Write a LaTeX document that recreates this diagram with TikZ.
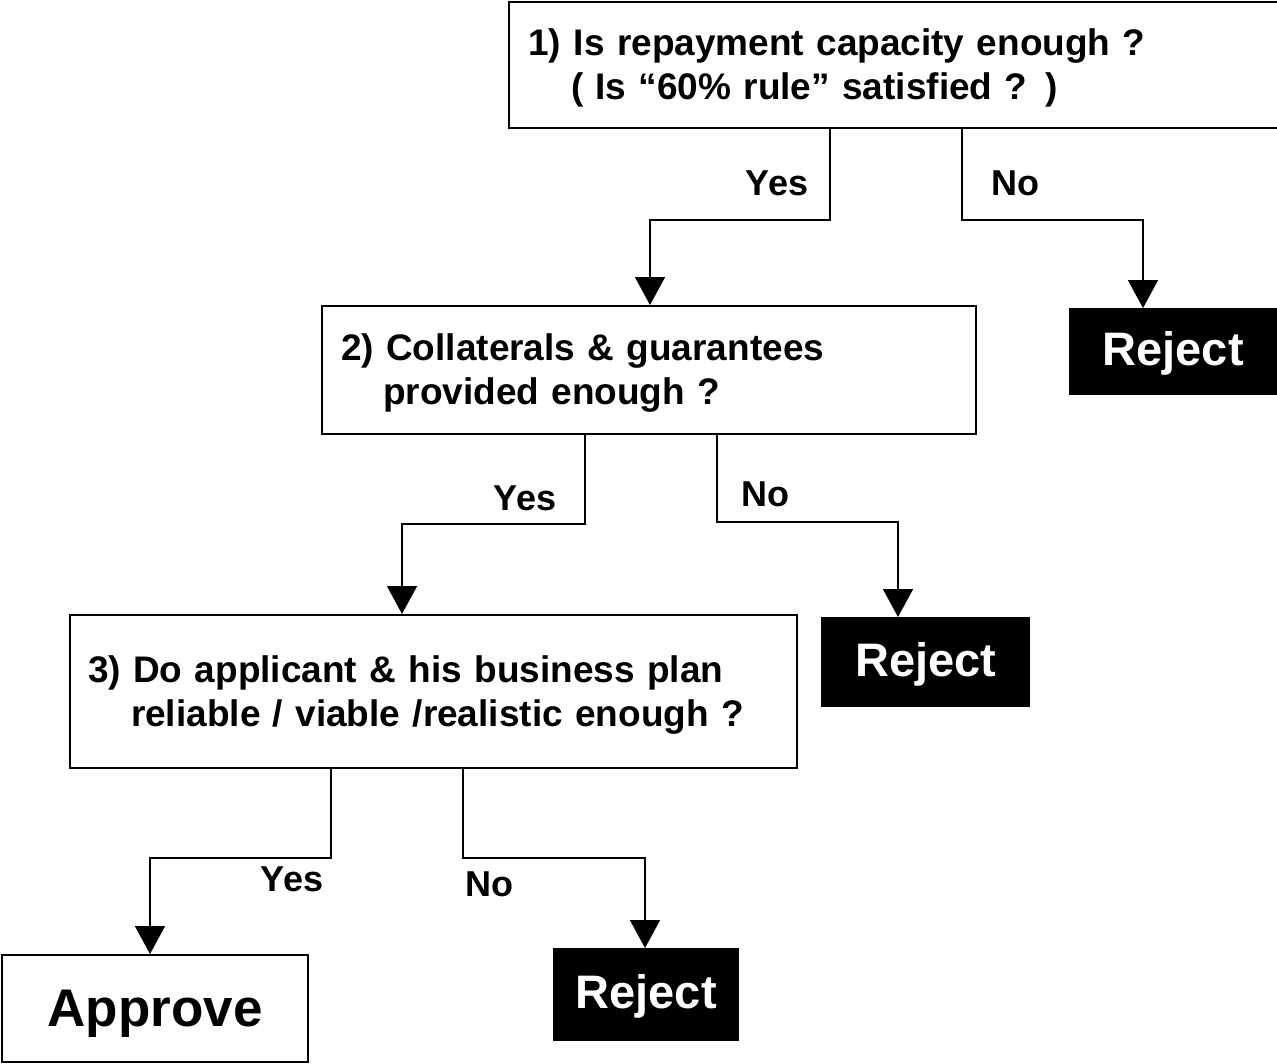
\documentclass[tikz,border=0pt]{standalone}
\usepackage{fontspec}
\setmainfont{Liberation Sans}
\usetikzlibrary{arrows.meta}
\begin{document}
\begin{tikzpicture}[x=1pt,y=-1pt,
  qbox/.style={draw, line width=2pt, anchor=north west, inner xsep=19pt, inner ysep=0pt,
    align=left, font=\bfseries\fontsize{37}{44}\selectfont,
    execute at begin node={\rule{0pt}{33pt}}},
  rej/.style={fill=black, text=white, anchor=north west, inner sep=0pt,
    text height=38.5pt, text depth=10pt,
    font=\bfseries\fontsize{47}{50}\selectfont},
  okbox/.style={draw, line width=2pt, anchor=north west, inner sep=0pt,
    text height=46.5pt, text depth=11pt,
    font=\bfseries\fontsize{53}{56}\selectfont},
  lab/.style={font=\bfseries\fontsize{36}{40}\selectfont},
  arr/.style={line width=1.6pt, -{Triangle[width=30pt,length=28pt]}},
]
\useasboundingbox (0,0) rectangle (1277,1063);

% decision boxes
\node[qbox, minimum width=769pt, minimum height=126pt, text width=731pt] (q1) at (508,1)
  {1)\hspace{13pt}Is repayment capacity enough ?\\\hspace*{43pt}( Is “60\% rule” satisfied ? )};
\node[qbox, minimum width=654pt, minimum height=128pt, text width=616pt] (q2) at (321,305)
  {2) Collaterals \& guarantees\\\hspace*{42pt}provided enough ?};
\node[qbox, inner xsep=18pt, minimum width=727pt, minimum height=153pt, text width=691pt] (q3) at (69,614)
  {3) Do applicant \& his business plan\\\hspace*{43pt}reliable / viable /realistic enough ?};

% outcomes
\node[rej, minimum width=208pt, minimum height=87pt] (r1) at (1069,308) {Reject};
\node[rej, minimum width=209pt, minimum height=90pt] (r2) at (821,617) {Reject};
\node[rej, minimum width=186pt, minimum height=93pt] (r3) at (553,948) {Reject};
\node[okbox, minimum width=306pt, minimum height=107pt] (ap) at (1,954) {Approve};

% connectors
\draw[arr] (q1.south -| 830,0) -- ++(0,91) -| (q2.north -| 650,0);
\draw[arr] (q1.south -| 962,0) -- ++(0,91) -| (r1.north -| 1143,0);
\draw[arr] (q2.south -| 585,0) -- ++(0,89) -| (q3.north -| 402,0);
\draw[arr] (q2.south -| 717,0) -- ++(0,87) -| (r2.north -| 898,0);
\draw[arr] (q3.south -| 331,0) -- ++(0,89) -| (ap.north -| 150,0);
\draw[arr] (q3.south -| 463,0) -- ++(0,89) -| (r3.north -| 645,0);

% branch labels
\node[lab] (y1) at (777,183) {Yes};
\node[lab] (n1) at (1015,183) {No};
\node[lab] (y2) at (525,498) {Yes};
\node[lab] (n2) at (765,494) {No};
\node[lab] (y3) at (292,879) {Yes};
\node[lab] (n3) at (489,884) {No};
\end{tikzpicture}
\end{document}
